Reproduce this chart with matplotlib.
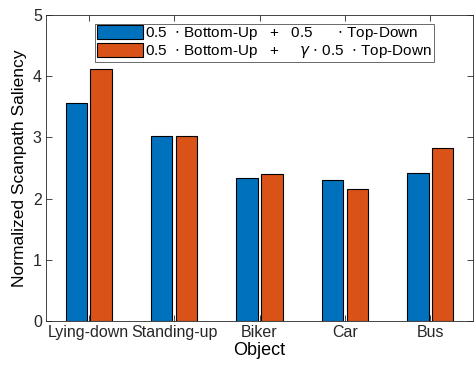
import numpy as np
import matplotlib.pyplot as plt

plt.rcParams['font.family'] = ['Liberation Sans', 'DejaVu Sans']
plt.rcParams['mathtext.fontset'] = 'dejavusans'

objects = ['Lying-down', 'Standing-up', 'Biker', 'Car', 'Bus']
equal_weight = [3.56, 3.02, 2.33, 2.30, 2.42]
gamma_weight = [4.11, 3.02, 2.41, 2.15, 2.82]
labels = [r'0.5  $\cdot$ Bottom-Up   +   0.5      $\cdot$ Top-Down',
          r'0.5  $\cdot$ Bottom-Up   +     $\gamma$ $\cdot$ 0.5  $\cdot$ Top-Down']

fig = plt.figure(figsize=(4.74, 3.70), dpi=100)
ax = fig.add_axes([0.097, 0.1324, 0.901, 0.8271])

x = np.arange(1, len(objects) + 1)
w = 0.25
off = 0.146
ax.bar(x - off, equal_weight, w, color='#0072BD', edgecolor='black',
       linewidth=0.8, label=labels[0])
ax.bar(x + off, gamma_weight, w, color='#D95319', edgecolor='black',
       linewidth=0.8, label=labels[1])

ax.set_xlim(0.5, 5.5)
ax.set_ylim(0, 5)
ax.set_xticks(x)
ax.set_xticklabels(objects)
ax.set_yticks(range(6))
ax.tick_params(direction='in', top=True, right=True, length=4,
               width=0.6, labelsize=11.5, colors='#262626', pad=3)
for s in ax.spines.values():
    s.set_linewidth(0.6)
    s.set_color('#262626')
ax.set_xlabel('Object', fontsize=13, labelpad=1)
ax.set_ylabel('Normalized Scanpath Saliency', fontsize=12.5, labelpad=4)

leg = ax.legend(loc='upper center', bbox_to_anchor=(0.512, 0.972),
                fontsize=11, frameon=True, fancybox=False, edgecolor='#262626',
                handlelength=3.0, handleheight=1.0, handletextpad=0.15,
                borderpad=0.12, labelspacing=0.05, borderaxespad=0)
leg.get_frame().set_linewidth(0.6)

fig.savefig('out.png', dpi=100)
